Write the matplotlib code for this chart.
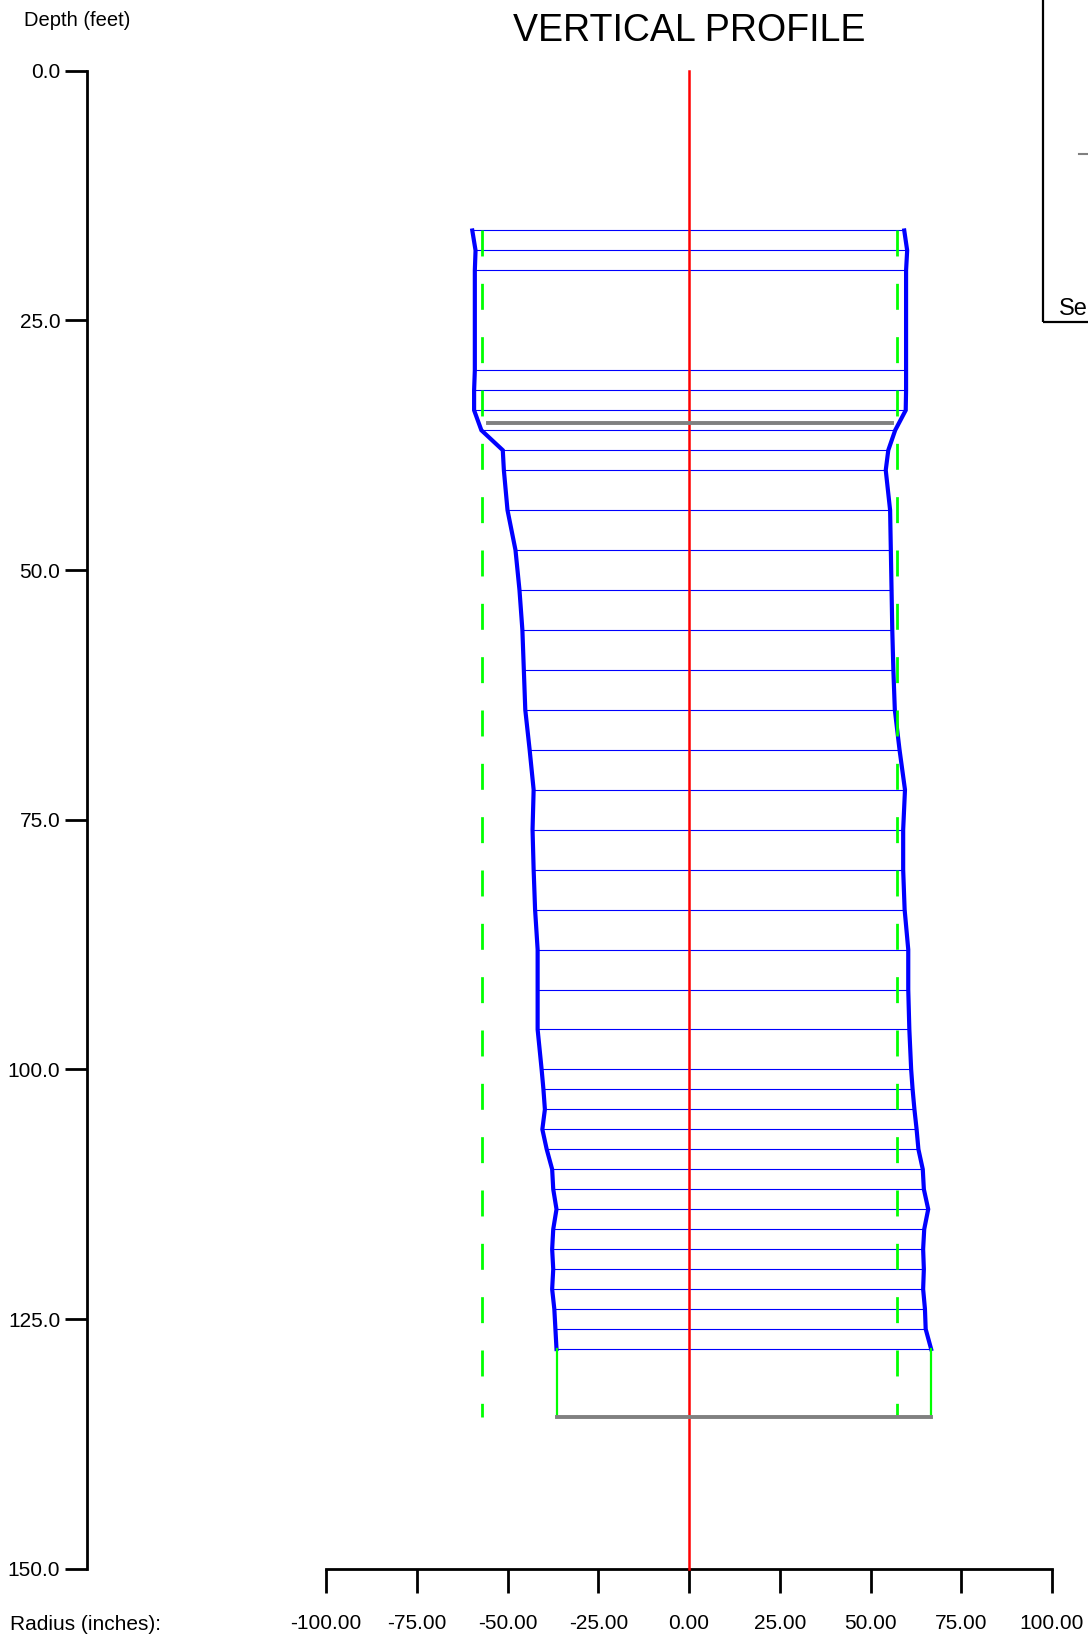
"""Vertical profile of a drilled shaft: radius vs depth, traced with its caliper sections."""

import numpy as np
import matplotlib
matplotlib.use("Agg")
import matplotlib.pyplot as plt  # noqa: E402
from matplotlib.patches import Rectangle  # noqa: E402
from matplotlib.ticker import FormatStrFormatter  # noqa: E402

plt.rcParams['font.family'] = ['Liberation Sans', 'DejaVu Sans']
plt.rcParams['lines.scale_dashes'] = False

# Measured sections (depth in feet, radius in inches)
depths = [16, 18, 20, 30, 32, 34, 36, 38, 40, 44, 48, 52, 56, 60, 64, 68,
          72, 76, 80, 84, 88, 92, 96, 100, 102, 104, 106, 108, 110, 112,
          114, 116, 118, 120, 122, 124, 126, 128]
left_r = [-59.7, -58.8, -59.0, -59.0, -59.2, -59.2, -57.2, -51.3, -51.0, -50.0,
          -47.8, -46.7, -45.9, -45.5, -45.1, -43.9, -42.8, -43.1, -42.8, -42.4,
          -41.7, -41.7, -41.7, -40.6, -40.1, -39.7, -40.4, -39.2, -37.7, -37.4,
          -36.5, -37.4, -37.7, -37.4, -37.7, -37.1, -36.8, -36.5]
right_r = [59.3, 60.1, 59.8, 59.8, 59.8, 59.7, 56.8, 54.9, 54.2, 55.4,
           55.6, 55.8, 56.0, 56.3, 56.7, 58.0, 59.5, 59.0, 59.0, 59.4,
           60.4, 60.4, 60.7, 61.2, 61.6, 62.1, 62.7, 63.2, 64.4, 64.7,
           65.9, 64.8, 64.5, 64.7, 64.5, 65.0, 65.2, 66.7]

# Design radius (dashed guides), casing bottom and shaft toe
design_left, design_right = -56.9, 57.4
design_top, toe_depth = 16, 134.8
casing_depth = 35.3
casing_left, casing_right = -55.5, 55.8

depth_ticks = np.arange(0, 151, 25)
radius_ticks = np.arange(-100, 101, 25)

# pixel layout of the figure
W, H, DPI = 1088, 1637, 100
X0, PX_IN = 689.0, 3.63      # pixel of radius 0, pixels per inch
Y0, PX_FT = 70.7, 9.987      # pixel of depth 0, pixels per foot

fig = plt.figure(figsize=(W / DPI, H / DPI), dpi=DPI)
ax = fig.add_axes([0, 0, 1, 1])
ax.set_xlim(-X0 / PX_IN, (W - X0) / PX_IN)
ax.set_ylim((H - Y0) / PX_FT, -Y0 / PX_FT)
ax.patch.set_visible(False)

for s in ("top", "right"):
    ax.spines[s].set_visible(False)
ax.spines["left"].set_position(("data", (86.7 - X0) / PX_IN))
ax.spines["left"].set_bounds(0, 150)
ax.spines["bottom"].set_position(("data", 150))
ax.spines["bottom"].set_bounds(-100, 100)
for s in ("left", "bottom"):
    ax.spines[s].set_linewidth(2)
    ax.spines[s].set_capstyle("projecting")

ax.set_yticks(depth_ticks)
ax.set_xticks(radius_ticks)
ax.yaxis.set_major_formatter(FormatStrFormatter("%.1f"))
ax.xaxis.set_major_formatter(FormatStrFormatter("%.2f"))
ax.tick_params(axis="y", direction="out", length=15.8, width=2, pad=3.2, labelsize=15)
ax.tick_params(axis="x", direction="out", length=17.3, width=2, pad=15.5, labelsize=15)

# section lines
for d, l, r in zip(depths, left_r, right_r):
    ax.plot([l, r], [d, d], color="#0000ff", lw=0.8, zorder=2)

# shaft outline
ax.plot(left_r, depths, color="#0000ff", lw=3.0, zorder=3, solid_joinstyle="miter")
ax.plot(right_r, depths, color="#0000ff", lw=3.0, zorder=3, solid_joinstyle="miter")

# design radius
for x in (design_left, design_right):
    ax.plot([x, x], [design_top, toe_depth], color="#00ff00", lw=2.0,
            linestyle=(0, (18.7, 19.7)), zorder=3)

# extension below last section to the toe
ax.plot([left_r[-1], left_r[-1]], [depths[-1], toe_depth], color="#00ff00", lw=1.6, zorder=3)
ax.plot([right_r[-1], right_r[-1]], [depths[-1], toe_depth], color="#00ff00", lw=1.6, zorder=3)

# centre line
ax.plot([0, 0], [0, 150], color="#ff0000", lw=1.8, zorder=4)

# casing bottom and toe
ax.plot([casing_left, casing_right], [casing_depth, casing_depth], color="#808080", lw=2.8, zorder=5)
ax.plot([left_r[-1], right_r[-1]], [toe_depth, toe_depth], color="#808080", lw=2.8, zorder=5)

fig.text(X0 / W, 1 - 31 / H, "VERTICAL PROFILE", ha="center", va="center", fontsize=27)
fig.text(24 / W, 1 - 21 / H, "Depth (feet)", ha="left", va="center", fontsize=14.5)
fig.text(10.5 / W, 1 - 1624 / H, "Radius (inches):", ha="left", va="center", fontsize=15)

# legend box, cut off at the figure edge
fig.patches.append(Rectangle((1043.3 / W, 1 - 322 / H), 0.2, 0.3, transform=fig.transFigure,
                             fill=False, edgecolor="black", lw=1.6))
fig.add_artist(plt.Line2D([1079 / W, 1.0], [1 - 153.5 / H, 1 - 153.5 / H],
                          transform=fig.transFigure, color="#808080", lw=1.5))
fig.text(1059 / W, 1 - 315 / H, "Se", ha="left", va="baseline", fontsize=17)

fig.savefig("out.png", dpi=DPI)
